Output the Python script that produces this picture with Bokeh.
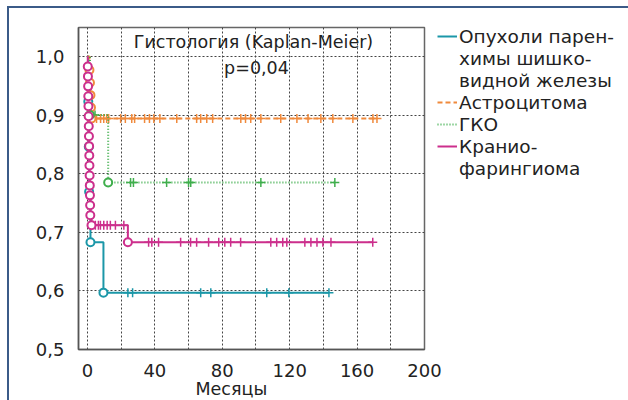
from bokeh.plotting import figure
from bokeh.models import FixedTicker, Label, Legend, LegendItem, Range1d, Title
from bokeh.embed import file_html
from bokeh.resources import INLINE

# ---------------- data ----------------
x_ticks = [0, 20, 40, 60, 80, 100, 120, 140, 160, 180, 200]
x_tick_labels = ["0", "", "40", "", "80", "", "120", "", "160", "", "200"]
y_ticks = [0.5, 0.6, 0.7, 0.8, 0.9, 1.0]
y_tick_labels = ["0,5", "0,6", "0,7", "0,8", "0,9", "1,0"]

# Опухоли паренхимы шишковидной железы
pineal_event_t = [0.5, 0.8, 1.0, 1.8, 9.5]
pineal_event_s = [0.923, 0.846, 0.769, 0.683, 0.597]
pineal_cens_t = [24.0, 26.8, 67.2, 73.2, 106.4, 119.5, 143.3]

# Астроцитома
astro_event_t = [1.2, 1.5, 1.8, 2.1, 2.4]
astro_event_s = [0.977, 0.955, 0.934, 0.913, 0.894]
astro_cens_t = [3.5, 5.4, 7.8, 9.7, 11.4, 12.6, 19.7, 22.5, 26.3, 28.0, 33.9, 36.8,
                39.4, 43.0, 53.0, 64.8, 67.2, 70.8, 74.3, 91.0, 93.8, 96.9, 102.9,
                114.7, 124.3, 130.9, 138.5, 145.6, 157.5, 169.4, 171.8]

# ГКО
gko_event_t = [1.5, 12.3]
gko_event_s = [0.900, 0.785]
gko_cens_t = [4.5, 25.6, 27.3, 47.0, 60.0, 61.3, 102.9, 146.8]

# Краниофарингиома
cranio_event_t = [0.2, 0.3, 0.4, 0.5, 0.6, 0.7, 0.8, 0.9, 1.0, 1.1, 1.2, 1.3,
                  1.4, 1.5, 1.6, 1.7, 2.4, 24.0]
cranio_event_s = [0.983, 0.966, 0.949, 0.932, 0.915, 0.898, 0.881, 0.864, 0.847,
                  0.831, 0.814, 0.797, 0.780, 0.763, 0.746, 0.729, 0.712, 0.683]
cranio_cens_t = [4.7, 6.5, 7.7, 9.7, 11.7, 13.6, 16.6, 21.6,
                 36.3, 38.2, 42.2, 55.3, 61.2, 64.8, 71.9, 77.9, 81.5, 85.0, 90.9,
                 108.8, 112.3, 115.9, 118.3, 129.0, 132.6, 136.2, 139.7, 144.5, 169.3]

legend_lines = ["Опухоли парен-", "химы шишко-", "видной железы",
                "Астроцитома", "ГКО", "Кранио-", "фарингиома"]
legend_series = [0, None, None, 1, 2, 3, None]

title_text = "Гистология (Kaplan-Meier)"
p_text = "p=0,04"
x_label = "Месяцы"

# ---------------- helpers ----------------
def km_steps(ev_t, ev_s, end_t):
    xs, ys, s = [0.0], [1.0], 1.0
    for t, v in zip(ev_t, ev_s):
        xs += [t, t]
        ys += [s, v]
        s = v
    xs.append(end_t)
    ys.append(s)
    return xs, ys

def surv_at(ev_t, ev_s, t):
    s = 1.0
    for et, v in zip(ev_t, ev_s):
        if et <= t:
            s = v
    return s

FONT = "DejaVu Sans"

p = figure(frame_width=346, frame_height=322,
           x_range=Range1d(-5.3, 200), y_range=Range1d(0.5, 1.0494),
           output_backend="svg", toolbar_location=None,
           min_border_left=78, min_border_right=204,
           min_border_top=27, min_border_bottom=51)
p.border_fill_alpha = 0
p.styles = {"box-shadow": "inset 7px 6px 0 0 #ffffff, inset 9px 8px 0 0 #3b5b88"}

p.outline_line_color = "#666666"
p.outline_line_width = 1.5

p.xaxis.ticker = FixedTicker(ticks=x_ticks)
p.yaxis.ticker = FixedTicker(ticks=y_ticks)
p.xaxis.major_label_overrides = {t: l for t, l in zip(x_ticks, x_tick_labels)}
p.yaxis.major_label_overrides = {t: l for t, l in zip(y_ticks, y_tick_labels)}
for ax in (p.xaxis, p.yaxis):
    ax.major_tick_line_color = None
    ax.minor_tick_line_color = None
    ax.axis_line_color = "#555555"
    ax.axis_line_width = 1.5
    ax.major_label_text_font = FONT
    ax.major_label_text_font_size = "18px"
    ax.major_label_text_color = "#222222"
p.xaxis.major_label_standoff = 8
p.yaxis.major_label_standoff = 8

for g in (p.xgrid, p.ygrid):
    g.grid_line_color = "#444444"
    g.grid_line_dash = "2 2"
    g.grid_line_width = 1

groups = [
    (pineal_event_t, pineal_event_s, pineal_cens_t, "#1b97a8", "solid", 2),
    (astro_event_t, astro_event_s, astro_cens_t, "#f08a3c", "5 3", 2),
    (gko_event_t, gko_event_s, gko_cens_t, "#3fae4c", "1 2", 2),
    (cranio_event_t, cranio_event_s, cranio_cens_t, "#cc2f8c", "solid", 2),
]

line_renderers = []
for ev_t, ev_s, c_t, col, dash, lw in groups:
    end_t = max(c_t)
    xs, ys = km_steps(ev_t, ev_s, end_t)
    r = p.line(xs, ys, line_color=col, line_width=lw, line_dash=dash)
    line_renderers.append(r)
    cy = [surv_at(ev_t, ev_s, t) for t in c_t]
    p.scatter(c_t, cy, marker="cross", size=9, line_color=col, line_width=1.5)

for ev_t, ev_s, c_t, col, dash, lw in groups:
    p.scatter(ev_t, ev_s, marker="circle", size=8, fill_color="white",
              line_color=col, line_width=2)

items = []
for lbl, si in zip(legend_lines, legend_series):
    if si is None:
        rend = p.line([0, 1], [0, 0], line_alpha=0)
    else:
        rend = line_renderers[si]
    items.append(LegendItem(label=lbl, renderers=[rend]))

legend = Legend(items=items, location=(13, 170),
                padding=0, margin=0, spacing=0,
                glyph_width=20, glyph_height=22, label_height=22,
                label_standoff=2, label_text_font=FONT,
                label_text_font_size="18.5px", label_text_color="#222222",
                border_line_color=None, background_fill_alpha=0)
p.add_layout(legend, "right")

p.add_layout(Label(x=98.5, y=1.024, text=title_text, text_align="center",
                   text_baseline="middle", text_font=FONT,
                   text_font_size="17.5px", text_color="#222222"))
p.add_layout(Label(x=100.3, y=0.98, text=p_text, text_align="center",
                   text_baseline="middle", text_font=FONT,
                   text_font_size="17.5px", text_color="#222222"))
p.add_layout(Title(text=x_label, align="left", offset=117, standoff=-5,
                   text_font=FONT, text_font_size="17.5px", text_font_style="normal",
                   text_color="#222222"), "below")

open("out.html", "w").write(file_html(p, INLINE))
